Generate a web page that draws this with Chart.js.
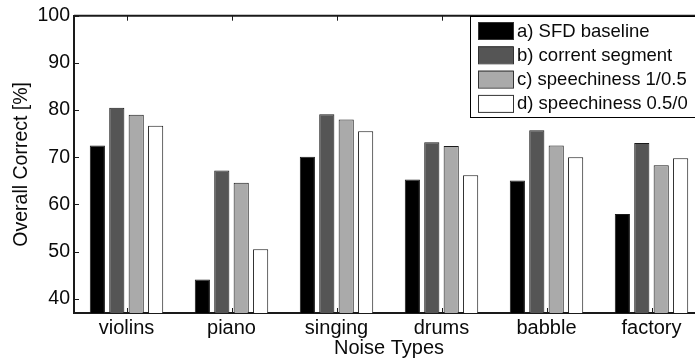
<!DOCTYPE html>
<html>
<head>
<meta charset="utf-8">
<script src="https://cdn.jsdelivr.net/npm/chart.js@4.4.1/dist/chart.umd.min.js"></script>
<style>
  html, body { margin: 0; padding: 0; background: #fff; overflow: hidden; }
  #wrap { width: 720px; height: 358px; }
</style>
</head>
<body>
<div id="wrap"><canvas id="noiseChart"></canvas></div>
<script>
const noiseTypes = ['violins', 'piano', 'singing', 'drums', 'babble', 'factory']

const sfdBaseline = [72.5, 44.1, 70.1, 65.3, 65.1, 58.0]
const correntSegment = [80.5, 67.2, 79.1, 73.2, 75.7, 73.0]
const speechiness1 = [79.0, 64.6, 78.0, 72.4, 72.5, 68.3]
const speechiness05 = [76.7, 50.5, 75.5, 66.2, 70.0, 69.8]

const seriesLabels = ['a) SFD baseline', 'b) corrent segment', 'c) speechiness 1/0.5', 'd) speechiness 0.5/0']
const seriesColors = ['#000000', '#555555', '#aaaaaa', '#ffffff']

const yTicks = [40, 50, 60, 70, 80, 90, 100]

const FONT = "'Liberation Sans', Arial, sans-serif"
const INK = '#0a0a0a'

// box round the plot + matlab style inward ticks
const framePlugin = {
    id: 'frame',
    afterDraw(chart) {
        const { ctx, chartArea: a, scales: { x, y } } = chart
        ctx.save()
        ctx.strokeStyle = '#1a1a1a'
        ctx.lineWidth = 2
        ctx.beginPath()
        ctx.moveTo(a.left, a.top)
        ctx.lineTo(a.right, a.top)
        ctx.stroke()

        ctx.lineWidth = 1
        ctx.beginPath()
        noiseTypes.forEach((_, i) => {
            const px = Math.round(x.getPixelForValue(i)) + 0.5
            ctx.moveTo(px, a.top)
            ctx.lineTo(px, a.top + 5)
            ctx.moveTo(px, a.bottom)
            ctx.lineTo(px, a.bottom - 5)
        })
        yTicks.forEach(v => {
            const py = Math.round(y.getPixelForValue(v)) + 0.5
            ctx.moveTo(a.left, py)
            ctx.lineTo(a.left + 5, py)
        })
        ctx.stroke()
        ctx.restore()
    }
}

// boxed legend in the top right corner
const boxLegendPlugin = {
    id: 'boxLegend',
    afterDraw(chart) {
        const { ctx } = chart
        const left = 470, top = 16, w = 240, h = 101
        ctx.save()
        ctx.fillStyle = '#fff'
        ctx.fillRect(left, top, w, h)
        ctx.strokeStyle = '#000'
        ctx.lineWidth = 1
        ctx.strokeRect(left + 0.5, top + 0.5, w, h)

        ctx.font = `18.5px ${FONT}`
        ctx.textBaseline = 'middle'
        chart.data.datasets.forEach((ds, i) => {
            const cy = 30.5 + i * 24.3
            ctx.fillStyle = ds.backgroundColor
            ctx.fillRect(478, cy - 8.5, 35, 17)
            ctx.strokeStyle = '#333'
            ctx.strokeRect(478.5, cy - 8, 35, 17)
            ctx.fillStyle = INK
            ctx.fillText(ds.label, 517, cy + 1)
        })
        ctx.restore()
    }
}

const ctx = document.getElementById('noiseChart').getContext('2d')

const allSeries = [sfdBaseline, correntSegment, speechiness1, speechiness05]

const noiseChart = new Chart(ctx, {
    type: 'bar',
    data: {
        labels: noiseTypes,
        datasets: allSeries.map((values, i) => ({
            label: seriesLabels[i],
            data: values,
            backgroundColor: seriesColors[i],
            borderColor: '#1a1a1a',
            borderWidth: 1,
            categoryPercentage: 0.74,
            barPercentage: 0.78
        }))
    },
    options: {
        responsive: true,
        maintainAspectRatio: false,
        animation: false,
        layout: { padding: { top: 12, right: 16, left: 0, bottom: 0 } },
        plugins: {
            legend: { display: false },
            tooltip: { enabled: false }
        },
        scales: {
            x: {
                grid: { display: false, drawTicks: false },
                border: { display: true, color: '#1a1a1a', width: 2 },
                ticks: {
                    padding: 4,
                    color: INK,
                    font: { family: FONT, size: 20, lineHeight: 1.15 }
                },
                title: {
                    display: true,
                    text: 'Noise Types',
                    color: INK,
                    padding: 0,
                    font: { family: FONT, size: 20, lineHeight: 1 }
                },
                afterFit(scale) { scale.height = 45 }
            },
            y: {
                min: 37,
                max: 100,
                afterBuildTicks(scale) { scale.ticks = yTicks.map(v => ({ value: v })) },
                grid: { display: false, drawTicks: false },
                border: { display: true, color: '#1a1a1a', width: 2 },
                ticks: {
                    padding: 4,
                    color: INK,
                    font: { family: FONT, size: 19.5 }
                },
                title: {
                    display: true,
                    text: 'Overall Correct [%]',
                    color: INK,
                    padding: { top: 10, bottom: 0 },
                    font: { family: FONT, size: 19.5, lineHeight: 1.2 }
                },
                afterFit(scale) { scale.width = 74 }
            }
        }
    },
    plugins: [framePlugin, boxLegendPlugin]
})
</script>
</body>
</html>
